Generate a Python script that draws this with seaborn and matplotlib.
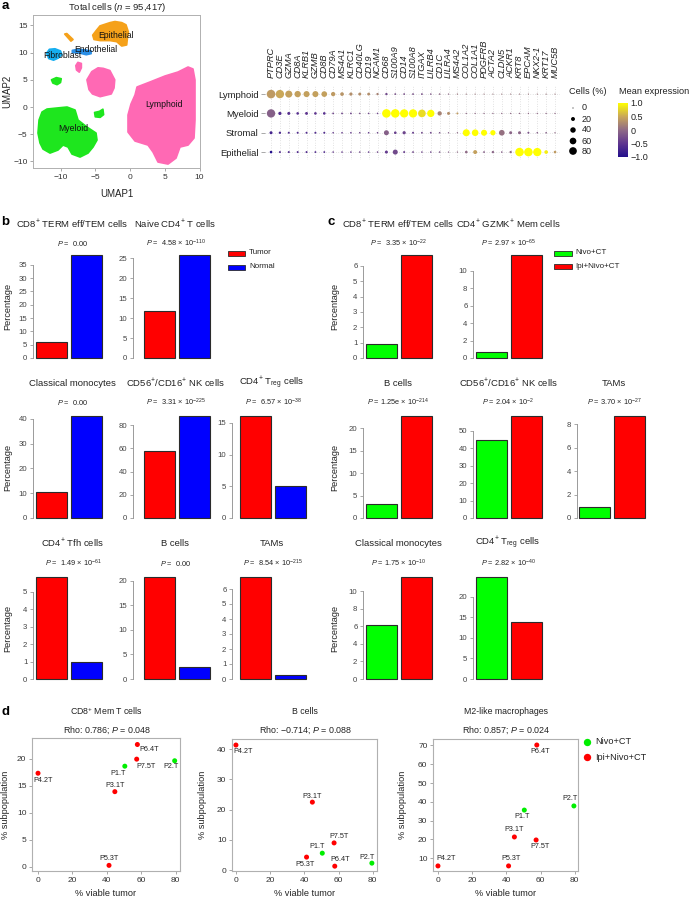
import numpy as np
import pandas as pd
import matplotlib
matplotlib.use('Agg')
import matplotlib.pyplot as plt
import seaborn as sns
from matplotlib.patches import Rectangle
from matplotlib.lines import Line2D
from matplotlib.colors import LinearSegmentedColormap, Normalize

# ------------------------------------------------------------------ DATA
# panel a : UMAP cluster outlines (UMAP units)
umap_pieces = [
    ('Lymphoid', [1.01, 2.88, 5.04, 6.91, 8.35, 9.06, 9.35, 9.35, 9.35, 9.21, 8.35, 7.19, 6.62, 5.47, 4.03, 3.31, 2.59, 0.72, -0.29, -0.29, 0.14, 0.72],
                 [3.68, 4.60, 5.70, 6.43, 7.35, 6.99, 4.96, 1.29, -2.39, -5.70, -6.99, -7.35, -9.38, -10.48, -10.11, -8.27, -6.99, -6.25, -4.60, -1.47, 0.55, 2.21]),
    ('Lymphoid', [-3.85, -2.9, -2.2, -2.3, -2.7, -4.3, -5.4, -5.9, -6.2, -5.5, -4.6],
                 [7.1, 6.7, 5.0, 3.5, 2.4, 1.9, 2.4, 3.2, 5.0, 6.5, 7.2]),
    ('Lymphoid', [-7.5, -7.0, -7.0, -7.3, -7.7, -7.8], [8.2, 8.0, 7.2, 6.4, 6.8, 7.6]),
    ('Myeloid', [-11.94, -10.50, -9.06, -7.91, -7.48, -6.19, -4.89, -4.75, -5.32, -6.04, -7.19, -8.35, -8.92, -9.64, -10.36, -11.51, -12.52, -12.95, -13.24, -13.09, -12.66],
                [-0.37, -0.18, 0.0, -0.55, -2.39, -3.68, -4.78, -6.07, -7.35, -8.46, -9.19, -8.64, -7.35, -6.99, -7.90, -8.46, -7.72, -6.62, -4.78, -2.39, -0.92]),
    ('Myeloid', [-11.3, -10.6, -9.9, -10.0, -10.5, -11.1], [5.0, 5.4, 5.2, 4.5, 4.1, 4.4]),
    ('Myeloid', [-5.1, -4.4, -3.9, -3.8, -4.3, -5.0], [-1.0, -0.8, -0.4, -1.4, -1.9, -1.8]),
    ('Epithelial', [-4.32, -2.88, -2.16, -1.19, -0.58, -0.24, -0.38, -0.48, -1.19, -1.91, -2.88, -4.32, -5.18, -5.37, -4.89],
                   [14.9, 15.5, 15.7, 15.5, 15.1, 13.8, 12.6, 11.4, 11.2, 12.0, 12.2, 12.2, 12.4, 13.2, 14.0]),
    ('Epithelial', [-9.4, -9.1, -8.2, -8.5], [13.4, 13.5, 12.4, 12.1]),
    ('Endothelial', [-8.3, -7.5, -6.5, -5.6, -5.6, -6.3, -7.2, -8.3], [10.4, 10.6, 10.5, 10.3, 9.8, 9.6, 9.9, 10.0]),
    ('Fibroblast', [-12.0, -11.6, -10.8, -10.0, -9.8, -10.3, -11.0, -11.7], [9.9, 10.6, 10.7, 10.3, 9.6, 9.0, 8.6, 8.9]),
]
umap_label_names = ['Epithelial', 'Endothelial', 'Fibroblast', 'Lymphoid', 'Myeloid']
umap_label_u = [-2.0, -4.9, -9.7, 4.96, -8.2]
umap_label_v = [13.2, 10.5, 9.4, 0.55, -4.0]
umap_xticks = [-10, -5, 0, 5, 10]
umap_yticks = [-10, -5, 0, 5, 10, 15]

# panel a : dot plot
genes = ['PTPRC', 'CD3E', 'GZMA', 'CD8A', 'KLRB1', 'GZMB', 'CD8B', 'CD79A', 'MS4A1', 'KLRC1', 'CD40LG',
         'CD19', 'NCAM1', 'CD68', 'S100A9', 'CD14', 'S100A8', 'ITGAX', 'LILRB4', 'CD1C', 'LILRA4', 'MS4A2',
         'COL1A2', 'COL1A1', 'PDGFRB', 'ACTA2', 'CLDN5', 'ACKR1', 'KRT8', 'EPCAM', 'NKX2-1', 'KRT17', 'MUC5B']
cell_groups = ['Lymphoid', 'Myeloid', 'Stromal', 'Epithelial']
pct_lymphoid = [100, 95, 67, 54, 49, 49, 43, 24, 17, 13, 11, 10, 6, 6, 3, 3, 3, 3, 2, 2, 1, 1, 0.5, 0.5, 0.5, 0.5, 0.5, 0.5, 0.5, 0.5, 0.5, 0.5, 0.5]
expr_lymphoid = [0.4, 0.5, 0.45, 0.45, 0.45, 0.45, 0.45, 0.4, 0.35, 0.3, 0.3, 0.3, 0.2, -0.3, -0.2, -0.2, -0.2, -0.2, -0.15, 0.0, 0.0, 0.1, 0.1, 0.1, 0.1, 0.1, 0.1, 0.1, 0.1, 0.1, 0.1, 0.1, 0.1]
pct_myeloid = [95, 13, 11, 8, 10, 8, 8, 3, 3, 3, 2, 2, 2, 100, 100, 94, 94, 80, 73, 24, 11, 4, 1, 1, 1, 1, 1, 1, 1, 1, 1, 1, 1]
expr_myeloid = [-0.1, -0.6, -0.55, -0.55, -0.5, -0.5, -0.55, -0.3, -0.3, -0.3, -0.2, -0.3, -0.3, 1.0, 1.0, 1.0, 1.0, 0.8, 1.0, 0.2, 0.3, 0.4, 0.0, 0.0, 0.0, 0.0, 0.0, 0.0, 0.0, 0.0, 0.0, 0.0, 0.0]
pct_stromal = [11, 6, 4, 4, 4, 4, 4, 2, 2, 2, 2, 2, 2, 33, 8, 13, 4, 3, 3, 2, 1, 1, 67, 60, 49, 37, 43, 11, 11, 4, 2, 2, 1]
expr_stromal = [-0.7, -0.65, -0.6, -0.6, -0.6, -0.6, -0.6, -0.4, -0.4, -0.4, -0.3, -0.4, -0.3, -0.1, -0.4, -0.35, -0.4, -0.3, -0.3, -0.2, -0.1, 0.0, 1.0, 1.0, 1.0, 1.0, 0.05, -0.05, -0.05, -0.2, -0.1, -0.1, 0.0]
pct_epithelial = [8, 4, 4, 4, 4, 3, 3, 2, 2, 2, 2, 2, 2, 11, 33, 4, 3, 2, 2, 2, 1, 1, 8, 20, 3, 6, 2, 6, 100, 100, 94, 17, 8]
expr_epithelial = [-1.0, -0.6, -0.6, -0.6, -0.6, -0.6, -0.6, -0.4, -0.4, -0.4, -0.3, -0.4, -0.3, -0.45, -0.3, -0.4, -0.3, -0.3, -0.3, -0.2, -0.1, 0.0, 0.0, 0.45, -0.1, -0.05, -0.1, 0.0, 1.0, 1.0, 1.0, 0.9, 0.4]
size_legend_values = [0, 20, 40, 60, 80]
cbar_ticks = [-1.0, -0.5, 0, 0.5, 1.0]
cbar_ticklabels = ['\u22121.0', '\u22120.5', '0', '0.5', '1.0']

# panel b : Tumor vs Normal
b_conditions = ['Tumor', 'Normal']
b_titles = ['CD8$^{+}$ TERM eff/TEM cells', 'Naive CD4$^{+}$ T cells', 'Classical monocytes',
            'CD56$^{+}$/CD16$^{+}$ NK cells', 'CD4$^{+}$ T$_{\\mathrm{reg}}$ cells', 'CD4$^{+}$ Tfh cells', 'B cells', 'TAMs']
b_pvals = ['$P$ =  0.00', '$P$ =  4.58 \u00d7 $10^{-110}$', '$P$ =  0.00', '$P$ =  3.31 \u00d7 $10^{-225}$',
           '$P$ =  6.57 \u00d7 $10^{-38}$', '$P$ =  1.49 \u00d7 $10^{-61}$', '$P$ =  0.00', '$P$ =  8.54 \u00d7 $10^{-215}$']
b_tumor = [6.0, 11.8, 10.4, 57.8, 16.1, 5.85, 20.8, 6.8]
b_normal = [38.7, 25.8, 41.2, 88.0, 5.1, 0.95, 2.4, 0.25]
b_tick_step = [5, 5, 10, 20, 5, 1, 5, 1]

# panel c : Nivo+CT vs Ipi+Nivo+CT
c_conditions = ['Nivo+CT', 'Ipi+Nivo+CT']
c_titles = ['CD8$^{+}$ TERM eff/TEM cells', 'CD4$^{+}$ GZMK$^{+}$ Mem cells', 'B cells',
            'CD56$^{+}$/CD16$^{+}$ NK cells', 'TAMs', 'Classical monocytes', 'CD4$^{+}$ T$_{\\mathrm{reg}}$ cells']
c_pvals = ['$P$ =  3.35 \u00d7 $10^{-22}$', '$P$ = 2.97 \u00d7 $10^{-65}$', '$P$ = 1.25e \u00d7 $10^{-214}$',
           '$P$ = 2.04 \u00d7 $10^{-2}$', '$P$ = 3.70 \u00d7 $10^{-27}$', '$P$ = 1.75 \u00d7 $10^{-10}$', '$P$ = 2.82 \u00d7 $10^{-40}$']
c_nivo = [0.9, 0.7, 3.1, 45.0, 0.95, 6.1, 24.8]
c_ipi = [6.7, 11.8, 22.7, 58.6, 8.7, 11.6, 13.9]
c_tick_step = [1, 2, 5, 10, 2, 2, 5]

# panel d : correlations
patients = ['P1.T', 'P2.T', 'P3.1T', 'P4.2T', 'P5.3T', 'P6.4T', 'P7.5T']
patient_arm = ['Nivo+CT', 'Nivo+CT', 'Ipi+Nivo+CT', 'Ipi+Nivo+CT', 'Ipi+Nivo+CT', 'Ipi+Nivo+CT', 'Ipi+Nivo+CT']
viable_tumor = [50.5, 79.5, 44.7, 0, 41.3, 57.8, 57.4]
cd8_mem = [18.6, 19.6, 13.9, 17.3, 0.3, 22.6, 19.9]
b_cells_sub = [5.6, 2.3, 22.5, 41.4, 4.3, 1.3, 9.0]
m2_macro = [35.6, 37.8, 21.3, 5.9, 5.9, 70.2, 19.7]
d_titles = ['CD8$^{+}$ Mem T cells', 'B cells', 'M2-like macrophages']
d_stats = ['Rho: 0.786; $P$ = 0.048', 'Rho: \u22120.714; $P$ = 0.088', 'Rho: 0.857; $P$ = 0.024']
d_yticks = [[0, 5, 10, 15, 20], [0, 10, 20, 30, 40], [10, 20, 30, 40, 50, 60, 70]]
d_xticks = [0, 20, 40, 60, 80]

# ------------------------------------------------------------------ STYLE
sns.set_theme(style='white')
plt.rcParams['font.family'] = ['Liberation Sans', 'DejaVu Sans']
plt.rcParams['mathtext.fontset'] = 'custom'
plt.rcParams['mathtext.rm'] = 'Liberation Sans'
plt.rcParams['mathtext.it'] = 'Liberation Sans:italic'
plt.rcParams['mathtext.bf'] = 'Liberation Sans:bold'
plt.rcParams['axes.unicode_minus'] = True

RED, BLUE, GREEN = '#ff0000', '#0000ff', '#00ff00'
GREY = '#9a9a9a'
TXT = '#222222'
cluster_colors = {'Lymphoid': '#ff69b4', 'Myeloid': '#1ee61e', 'Epithelial': '#f5a11a',
                  'Endothelial': '#2b8fe6', 'Fibroblast': '#16aef0'}
cmap = LinearSegmentedColormap.from_list('expr', ['#230f8c', '#5e358f', '#8f6a86', '#c9a659', '#ffff00'])

W, H = 689, 898
fig = plt.figure(figsize=(W / 100, H / 100), dpi=100)
fig.patch.set_facecolor('white')


def rect(x0, y0, x1, y1):
    return [x0 / W, 1 - y1 / H, (x1 - x0) / W, (y1 - y0) / H]


def fx(x):
    return x / W


def fy(y):
    return 1 - y / H


def ftext(x, y, s, **kw):
    kw.setdefault('ha', 'center')
    kw.setdefault('va', 'center')
    kw.setdefault('color', TXT)
    fig.text(fx(x), fy(y), s, **kw)


# panel letters
for letter, (x, y) in zip('abcd', [(5, 6), (5, 222), (331, 222), (5, 712)]):
    ftext(x, y, letter, fontsize=9.5, fontweight='bold', color='black')

# ------------------------------------------------------------------ a: UMAP
axu = fig.add_axes(rect(33, 15, 200, 168))
for name, us, vs in umap_pieces:
    axu.fill(us, vs, color=cluster_colors[name], ec=cluster_colors[name], lw=1.2, joinstyle='round', zorder=2)
for name, u, v in zip(umap_label_names, umap_label_u, umap_label_v):
    axu.text(u, v, name, fontsize=6.2, ha='center', va='center', color='#111111', zorder=3)
axu.set_xlim(-13.96, 10.07)
axu.set_ylim(-11.2, 16.9)
axu.set_xticks(umap_xticks)
axu.set_yticks(umap_yticks)
for s in axu.spines.values():
    s.set_color('#b0b0b0')
    s.set_linewidth(0.7)
axu.tick_params(length=2.5, width=0.6, color=GREY, labelsize=6, labelcolor='#333333', pad=1.5, direction='out',
                bottom=True, left=True)
axu.set_xlabel('UMAP1', fontsize=7, color=TXT)
axu.set_ylabel('UMAP2', fontsize=7, color=TXT)
axu.xaxis.set_label_coords(0.5, -0.137)
axu.yaxis.set_label_coords(-0.122, 0.5)
ftext(117, 8, 'Total cells ($n$ = 95,417)', fontsize=6.8)

# ------------------------------------------------------------------ a: dot plot
axd = fig.add_axes(rect(265, 85, 560, 160))
pct_rows = [pct_lymphoid, pct_myeloid, pct_stromal, pct_epithelial]
expr_rows = [expr_lymphoid, expr_myeloid, expr_stromal, expr_epithelial]
recs = []
for gi, (pr, er) in enumerate(zip(pct_rows, expr_rows)):
    for j in range(len(genes)):
        recs.append({'gene': j, 'group': gi, 'pct': pr[j], 'expr': er[j]})
dfd = pd.DataFrame(recs)
SMIN, SMAX = 0.6, 38.0
sns.scatterplot(data=dfd, x='gene', y='group', size='pct', sizes=(SMIN, SMAX), size_norm=(0, 100),
                hue='expr', palette=cmap, hue_norm=(-1, 1), linewidth=0, legend=False, ax=axd, zorder=3)
axd.set_xlim(-0.68, 32.56)
axd.set_ylim(3.41, -0.47)
axd.set_xticks(range(len(genes)))
axd.set_xticklabels(genes, rotation=90, fontstyle='italic', fontsize=6.7, color=TXT)
axd.xaxis.tick_top()
axd.set_yticks(range(len(cell_groups)))
axd.set_yticklabels(cell_groups, fontsize=6.8, color=TXT)
axd.tick_params(axis='x', length=0, pad=5, top=True, bottom=False)
axd.tick_params(axis='y', length=3, width=0.6, color=GREY, pad=1.5, left=True)
axd.grid(True, ls=(0, (1, 2.5)), color='#c8c8c8', lw=0.5)
axd.set_axisbelow(True)
axd.set_xlabel('')
axd.set_ylabel('')
for s in axd.spines.values():
    s.set_visible(False)

# size legend
ftext(569, 92, 'Cells (%)', fontsize=6.6, ha='left')
axl = fig.add_axes(rect(565, 100, 615, 158))
axl.set_xlim(0, 50)
axl.set_ylim(58, 0)
axl.axis('off')
leg_y = [8, 19, 30, 41, 51]
axl.scatter([8] * len(size_legend_values), leg_y,
            s=[SMIN + (SMAX - SMIN) * v / 100 for v in size_legend_values], color='black', lw=0)
for v, y in zip(size_legend_values, leg_y):
    axl.text(17, y, str(v), fontsize=6.5, va='center', ha='left', color=TXT)

# colorbar
ftext(619, 92, 'Mean expression', fontsize=6.6, ha='left')
cax = fig.add_axes(rect(618, 103, 628, 157))
sm = plt.cm.ScalarMappable(norm=Normalize(-1, 1), cmap=cmap)
cb = fig.colorbar(sm, cax=cax)
cb.outline.set_visible(False)
cb.set_ticks(cbar_ticks)
cb.set_ticklabels(cbar_ticklabels)
cax.tick_params(length=0, labelsize=6.5, pad=2, labelcolor=TXT)


# ------------------------------------------------------------------ b / c bar panels
def draw_bars(bar_left, spine_x, top, bottom, cats, vals, colors, step):
    axl_px = bar_left - 2.5
    ax = fig.add_axes(rect(axl_px, top, axl_px + 71, bottom))
    df = pd.DataFrame({'cond': cats, 'pct': vals})
    sns.barplot(data=df, x='cond', y='pct', hue='cond', order=cats, hue_order=cats,
                palette=dict(zip(cats, colors)), width=0.86, saturation=1,
                edgecolor='#2b2b2b', linewidth=0.8, legend=False, ax=ax)
    ax.set_xlim(-0.5, 1.5)
    ymax = max(vals)
    ax.set_ylim(0, ymax)
    ticks = np.arange(0, ymax + 1e-9, step)
    ax.set_yticks(ticks)
    ax.set_yticklabels([f'{t:g}' for t in ticks])
    for s in ['top', 'right', 'bottom']:
        ax.spines[s].set_visible(False)
    ax.spines['left'].set_bounds(0, ticks[-1])
    ax.spines['left'].set_position(('outward', max(axl_px - spine_x, 0) * 0.72))
    ax.spines['left'].set_color(GREY)
    ax.spines['left'].set_linewidth(0.7)
    ax.set_xticks([])
    ax.set_xlabel('')
    ax.set_ylabel('')
    ax.tick_params(axis='y', length=2.5, width=0.6, color=GREY, labelsize=5.6, labelcolor='#444444', pad=1.5, left=True)
    ax.set_facecolor('none')
    for p in ax.patches:
        p.set_clip_on(False)
    return ax


row_top = [255, 416, 577]
row_bottom = [358, 518, 679]
row_title_y = [224, 383, 543]
row_p_y = [243, 402, 563]

b_grid = [(0, 0), (0, 1), (1, 0), (1, 1), (1, 2), (2, 0), (2, 1), (2, 2)]
b_bar_left = [36, 144, 240]
b_spine_x = [33, 133, 232]
b_title_x = [72, 175, 272]
for i, (r, c) in enumerate(b_grid):
    draw_bars(b_bar_left[c], b_spine_x[c], row_top[r], row_bottom[r], b_conditions,
              [b_tumor[i], b_normal[i]], [RED, BLUE], b_tick_step[i])
    ftext(b_title_x[c], row_title_y[r], b_titles[i], fontsize=6.8)
    ftext(b_title_x[c] + 1, row_p_y[r], b_pvals[i], fontsize=5.3)

c_grid = [(0, 0), (0, 1), (1, 0), (1, 1), (1, 2), (2, 0), (2, 1)]
c_bar_left = [366, 476, 579]
c_spine_x = [363, 473, 577]
c_title_x = [398, 508, 614]
for i, (r, c) in enumerate(c_grid):
    draw_bars(c_bar_left[c], c_spine_x[c], row_top[r], row_bottom[r], c_conditions,
              [c_nivo[i], c_ipi[i]], [GREEN, RED], c_tick_step[i])
    ftext(c_title_x[c], row_title_y[r], c_titles[i], fontsize=6.8)
    ftext(c_title_x[c], row_p_y[r], c_pvals[i], fontsize=5.3)

for r in range(3):
    mid = (row_top[r] + row_bottom[r]) / 2
    ftext(8, mid, 'Percentage', fontsize=6.6, rotation=90)
    ftext(335, mid, 'Percentage', fontsize=6.6, rotation=90)

# bar legends
for lab, col, y in zip(b_conditions, [RED, BLUE], [253, 267]):
    fig.add_artist(Rectangle((fx(228), fy(y + 2.5)), 17 / W, 5 / H, transform=fig.transFigure,
                             facecolor=col, edgecolor='#2b2b2b', lw=0.6))
    ftext(249, y, lab, fontsize=5.8, ha='left')
for lab, col, y in zip(c_conditions, [GREEN, RED], [253, 266]):
    fig.add_artist(Rectangle((fx(554), fy(y + 2.5)), 18 / W, 5 / H, transform=fig.transFigure,
                             facecolor=col, edgecolor='#2b2b2b', lw=0.6))
    ftext(575, y, lab, fontsize=5.8, ha='left')

# ------------------------------------------------------------------ d: scatter panels
arm_colors = {'Nivo+CT': '#00ee00', 'Ipi+Nivo+CT': '#ff0000'}
d_rects = [(32, 738, 180, 871), (232, 739, 377, 871), (433, 739, 578, 871)]
d_xlims = [(-3.5, 82.6), (-2.3, 82.5), (-2.9, 81.9)]
d_ylims = [(-0.74, 23.8), (-0.3, 43.4), (3.2, 73.4)]
d_ylab_x = [-0.15, -0.175, -0.18]
# label offsets (px, +y = down) for each patient in each panel
d_offsets = [
    {'P1.T': (-7, 7), 'P2.T': (-4, 6), 'P3.1T': (0, -6), 'P4.2T': (5, 7), 'P5.3T': (0, -7), 'P6.4T': (12, 5), 'P7.5T': (9, 7)},
    {'P1.T': (-5, -7), 'P2.T': (-5, -6), 'P3.1T': (0, -6), 'P4.2T': (7, 6), 'P5.3T': (-2, 7), 'P6.4T': (5, -7), 'P7.5T': (5, -6)},
    {'P1.T': (-2, 6), 'P2.T': (-4, -7), 'P3.1T': (0, -7), 'P4.2T': (8, -7), 'P5.3T': (2, -7), 'P6.4T': (3, 6), 'P7.5T': (4, 7)},
]
d_series = [cd8_mem, b_cells_sub, m2_macro]
for k in range(3):
    x0, y0, x1, y1 = d_rects[k]
    ax = fig.add_axes(rect(x0, y0, x1, y1))
    df = pd.DataFrame({'viable': viable_tumor, 'sub': d_series[k], 'arm': patient_arm, 'pt': patients})
    sns.scatterplot(data=df, x='viable', y='sub', hue='arm', palette=arm_colors, s=13, linewidth=0,
                    legend=False, ax=ax, zorder=3)
    for _, row in df.iterrows():
        dx, dy = d_offsets[k][row['pt']]
        ax.annotate(row['pt'], (row['viable'], row['sub']), xytext=(dx * 0.72, -dy * 0.72),
                    textcoords='offset points', ha='center', va='center', fontsize=5.2, color=TXT)
    ax.set_xlim(*d_xlims[k])
    ax.set_ylim(*d_ylims[k])
    ax.set_xticks(d_xticks)
    ax.set_yticks(d_yticks[k])
    for s in ax.spines.values():
        s.set_color('#b0b0b0')
        s.set_linewidth(0.8)
    ax.tick_params(length=2.5, width=0.6, color=GREY, labelsize=6, labelcolor='#333333', pad=1.5,
                   direction='out', bottom=True, left=True)
    ax.set_xlabel('% viable tumor', fontsize=6.6, color=TXT)
    ax.set_ylabel('% subpopulation', fontsize=6.6, color=TXT)
    ax.xaxis.set_label_coords(0.5, -0.135)
    ax.yaxis.set_label_coords(d_ylab_x[k], 0.5)
    cx = (x0 + x1) / 2
    ftext(cx, 711, d_titles[k], fontsize=6.3)
    ftext(cx + 1, 730, d_stats[k], fontsize=6.4)

for lab, y in zip(['Nivo+CT', 'Ipi+Nivo+CT'], [742, 757]):
    fig.add_artist(Line2D([fx(587)], [fy(y)], marker='o', markersize=5.3, color=arm_colors[lab], lw=0,
                          markeredgewidth=0, transform=fig.transFigure))
    ftext(595, y, lab, fontsize=6.6, ha='left')

fig.savefig('out.png', dpi=100, facecolor='white')
